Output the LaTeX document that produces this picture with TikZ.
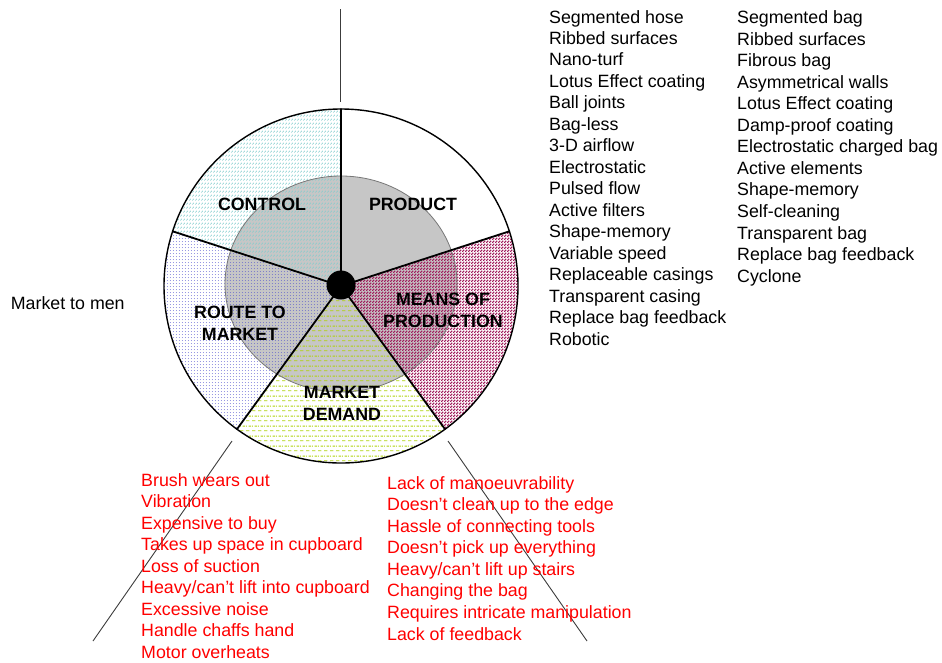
\documentclass[tikz,border=0pt]{standalone}
\usepackage{fontspec}
\setmainfont{Liberation Sans}
\usetikzlibrary{patterns}
\definecolor{textred}{RGB}{255,0,0}
\definecolor{innergray}{RGB}{198,198,198}
\definecolor{rimgray}{RGB}{120,120,120}
\definecolor{leadgray}{RGB}{60,60,60}
\definecolor{hatchcyan}{RGB}{130,205,205}
\definecolor{maroon}{RGB}{160,28,92}
\definecolor{lime}{RGB}{175,210,10}
\definecolor{dotblue}{RGB}{75,75,205}
\pgfdeclarepatternformonly{cyanhatch}{\pgfqpoint{0pt}{0pt}}{\pgfqpoint{3pt}{4.2pt}}{\pgfqpoint{3pt}{4.2pt}}{%
  \pgfsetlinewidth{0.7pt}%
  \pgfpathmoveto{\pgfqpoint{0.4pt}{0.6pt}}%
  \pgfpathlineto{\pgfqpoint{2.4pt}{2.6pt}}%
  \pgfusepath{stroke}}
\pgfdeclarepatternformonly{maroondots}{\pgfqpoint{0pt}{0pt}}{\pgfqpoint{3pt}{3pt}}{\pgfqpoint{3pt}{3pt}}{%
  \pgfpathrectangle{\pgfqpoint{0pt}{0pt}}{\pgfqpoint{1.7pt}{1.7pt}}%
  \pgfpathrectangle{\pgfqpoint{1.5pt}{1.5pt}}{\pgfqpoint{1.5pt}{1.5pt}}%
  \pgfusepath{fill}}
\pgfdeclarepatternformonly{limedashes}{\pgfqpoint{0pt}{0pt}}{\pgfqpoint{6pt}{10pt}}{\pgfqpoint{6pt}{10pt}}{%
  \pgfsetlinewidth{1pt}%
  \pgfpathmoveto{\pgfqpoint{0pt}{2.5pt}}\pgfpathlineto{\pgfqpoint{4pt}{2.5pt}}%
  \pgfpathmoveto{\pgfqpoint{3pt}{7.5pt}}\pgfpathlineto{\pgfqpoint{6pt}{7.5pt}}%
  \pgfpathmoveto{\pgfqpoint{0pt}{7.5pt}}\pgfpathlineto{\pgfqpoint{1pt}{7.5pt}}%
  \pgfusepath{stroke}}
\pgfdeclarepatternformonly{bluedots}{\pgfqpoint{0pt}{0pt}}{\pgfqpoint{3.3pt}{3.3pt}}{\pgfqpoint{3.3pt}{3.3pt}}{%
  \pgfpathcircle{\pgfqpoint{1.65pt}{1.65pt}}{0.5pt}%
  \pgfusepath{fill}}
\begin{document}
\begin{tikzpicture}[x=1pt,y=1pt,
  item/.style={anchor=base west, inner sep=0pt, font=\fontsize{17.8}{21.5}\selectfont},
  reditem/.style={item, text=textred},
  seclabel/.style={inner sep=0pt, align=center, font=\fontsize{17.8}{22}\selectfont\bfseries},
  spoke/.style={line width=1.8pt, line cap=round},
  rim/.style={line width=1.4pt},
  leader/.style={line width=0.9pt, draw=leadgray}]
\useasboundingbox (0,0) rectangle (942,-662);
\begin{scope}[shift={(341,-286)}]
  \fill[white] (0,0) circle[radius=177pt];
  \fill[innergray] (0,2pt) ellipse[x radius=116pt, y radius=108pt];
  \fill[pattern=cyanhatch, pattern color=hatchcyan] (0,0) -- (90:177pt) arc[start angle=90, end angle=162, radius=177pt] -- cycle;
  \fill[pattern=maroondots, pattern color=maroon] (0,0) -- (-54:177pt) arc[start angle=-54, end angle=18, radius=177pt] -- cycle;
  \fill[pattern=limedashes, pattern color=lime] (0,0) -- (-126:177pt) arc[start angle=-126, end angle=-54, radius=177pt] -- cycle;
  \fill[pattern=bluedots, pattern color=dotblue] (0,0) -- (162:177pt) arc[start angle=162, end angle=234, radius=177pt] -- cycle;
  \draw[rimgray, line width=0.8pt] (0,2pt) ellipse[x radius=116pt, y radius=108pt];
  \draw[rim] (0,0) circle[radius=177pt];
  \coordinate (o) at (0,0);
  \coordinate (s1) at (90:177pt);
  \coordinate (s2) at (18:177pt);
  \coordinate (s3) at (-54:177pt);
  \coordinate (s4) at (-126:177pt);
  \coordinate (s5) at (162:177pt);
  \foreach \s in {s1,s2,s3,s4,s5} \draw[spoke] (o) -- (\s);
\end{scope}
\node[circle, fill=black, minimum size=29pt, inner sep=0pt] (hub) at (341,-285) {};
% leader lines
\coordinate (t1) at (340,-9);   \coordinate (t2) at (340,-102);
\coordinate (l1) at (232,-441); \coordinate (l2) at (93,-641);
\coordinate (r1) at (448,-441); \coordinate (r2) at (587,-641);
\draw[leader] (t1) -- (t2);
\draw[leader] (l1) -- (l2);
\draw[leader] (r1) -- (r2);
% sector labels
\node[seclabel] (control) at (262,-204) {CONTROL};
\node[seclabel] (product) at (413,-204) {PRODUCT};
\node[seclabel] (means) at (443,-310.5) {MEANS OF\\PRODUCTION};
\node[seclabel] (route) at (240,-323.5) {ROUTE TO\\MARKET};
\node[seclabel] (demand) at (342,-403) {MARKET\\DEMAND};
% lists
\foreach \t [count=\i] in {Segmented hose,Ribbed surfaces,Nano-turf,Lotus Effect coating,Ball joints,Bag-less,3-D airflow,Electrostatic,Pulsed flow,Active filters,Shape-memory,Variable speed,Replaceable casings,Transparent casing,Replace bag feedback,Robotic}
  \node[item] (pa\i) at (549,{-23-21.47*(\i-1)}) {\t};
\foreach \t [count=\i] in {Segmented bag,Ribbed surfaces,Fibrous bag,Asymmetrical walls,Lotus Effect coating,Damp-proof coating,Electrostatic charged bag,Active elements,Shape-memory,Self-cleaning,Transparent bag,Replace bag feedback,Cyclone}
  \node[item] (pb\i) at (737,{-23.5-21.55*(\i-1)}) {\t};
\foreach \t [count=\i] in {Brush wears out,Vibration,Expensive to buy,Takes up space in cupboard,Loss of suction,Heavy/can’t lift into cupboard,Excessive noise,Handle chaffs hand,Motor overheats}
  \node[reditem] (ra\i) at (141,{-486-21.5*(\i-1)}) {\t};
\foreach \t [count=\i] in {Lack of manoeuvrability,Doesn’t clean up to the edge,Hassle of connecting tools,Doesn’t pick up everything,Heavy/can’t lift up stairs,Changing the bag,Requires intricate manipulation,Lack of feedback}
  \node[reditem] (rb\i) at (387,{-489-21.57*(\i-1)}) {\t};
\node[item] (men) at (10.7,-309) {Market to men};
\end{tikzpicture}
\end{document}
